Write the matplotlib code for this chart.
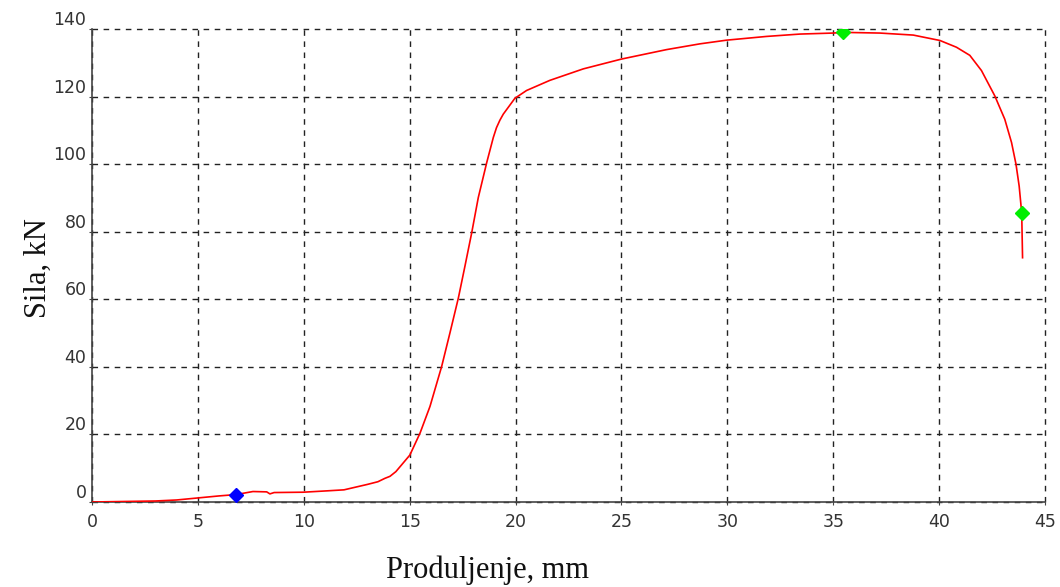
import matplotlib
matplotlib.use("Agg")
import matplotlib.pyplot as plt

# Data (elongation mm, force kN)
elong = [0.0, 1.0, 2.0, 3.0, 4.0, 5.0, 6.0, 6.8, 7.6, 8.25, 8.4, 8.6, 9.98, 11.1, 11.9,
         13.0, 13.5, 13.83, 14.07, 14.35, 14.62, 15.01, 15.49, 15.96, 16.51, 16.9, 17.3,
         17.61, 17.93, 18.24, 18.64, 18.95, 19.1, 19.26, 19.42, 19.97, 20.52, 21.62, 23.2,
         25.0, 27.13, 28.7, 29.97, 31.85, 33.43, 35.0, 35.47, 37.2, 38.78, 40.04, 40.82,
         41.45, 42.0, 42.63, 43.1, 43.42, 43.63, 43.78, 43.9, 43.94]
force = [0.0, 0.1, 0.2, 0.3, 0.6, 1.2, 1.8, 2.2, 3.1, 3.0, 2.4, 2.8, 2.9, 3.3, 3.6,
         5.2, 6.0, 7.0, 7.6, 9.0, 11.0, 13.9, 20.4, 28.3, 40.1, 50.0, 60.4,
         69.8, 79.7, 90.1, 100.5, 107.9, 110.8, 113.0, 114.8, 119.5, 121.8, 124.8, 128.2,
         131.1, 133.9, 135.6, 136.7, 137.8, 138.5, 138.8, 139.0, 138.8, 138.2, 136.6, 134.6,
         132.2, 127.7, 120.2, 113.3, 106.4, 100.0, 93.5, 85.6, 72.3]

blue_pt = (6.8, 2.1)
green_pts_x = [35.47, 43.9]
green_pts_y = [139.0, 85.6]

xticks = [0, 5, 10, 15, 20, 25, 30, 35, 40, 45]
yticks = [0, 20, 40, 60, 80, 100, 120, 140]

fig = plt.figure(figsize=(10.6, 5.87), dpi=100)
ax = fig.add_axes([92 / 1060, 1 - 502 / 587, (1045 - 92) / 1060, (502 - 29) / 587])

ax.plot(elong, force, color="#ff0000", lw=1.2, zorder=3, solid_joinstyle="round")
ax.plot([blue_pt[0]], [blue_pt[1]], marker="D", color="#0000ff", ms=7, ls="none", zorder=4)
ax.plot(green_pts_x, green_pts_y, marker="D", color="#00ee00", ms=7, ls="none", zorder=4)

ax.set_xlim(0, 45)
ax.set_ylim(0, 140)
ax.set_xticks(xticks)
ax.set_yticks(yticks)
ax.grid(True, color="#222222", ls=(0, (4, 4)), lw=1.0)
ax.set_axisbelow(True)
for gl in ax.get_xgridlines() + ax.get_ygridlines():
    gl.set_clip_on(False)
for side in ["top", "right"]:
    ax.spines[side].set_visible(False)
for side in ["left", "bottom"]:
    ax.spines[side].set_color("#444444")
    ax.spines[side].set_linewidth(1.2)
    ax.spines[side].set_zorder(2.5)

ax.tick_params(axis="both", length=2, color="#444444", labelsize=12.5, labelcolor="#333333")
ax.tick_params(axis="y", pad=2)
ax.tick_params(axis="x", pad=6)
for lbl in ax.get_yticklabels():
    lbl.set_verticalalignment("bottom")

fig.text(487 / 1060, 1 - 570 / 587, "Produljenje, mm", family="Liberation Serif",
         fontsize=22, ha="center", va="center", color="#111111")
fig.text(38 / 1060, 1 - 268 / 587, "Sila, kN", family="Liberation Serif",
         fontsize=22, ha="center", va="center", rotation=90, color="#111111")

fig.savefig("out.png", dpi=100)
